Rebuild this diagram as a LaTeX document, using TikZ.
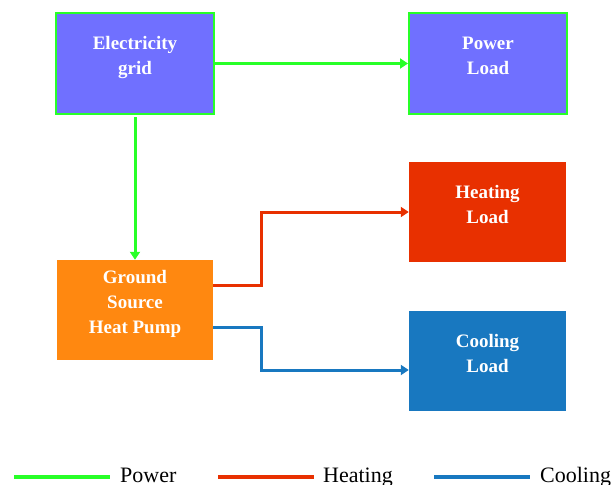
\documentclass[tikz,border=0pt]{standalone}
\usepackage{fontspec}
\setmainfont{Liberation Serif}
\usetikzlibrary{arrows.meta}

\definecolor{powergreen}{RGB}{40,255,40}
\definecolor{gridblue}{RGB}{112,112,255}
\definecolor{heatred}{RGB}{232,48,0}
\definecolor{pumporange}{RGB}{255,136,16}
\definecolor{coolblue}{RGB}{24,120,192}

\tikzset{
  unitbox/.style={rectangle,minimum width=158pt,minimum height=101pt,inner sep=0pt,
    align=center,text=white,text depth=16pt,font=\bfseries\fontsize{19}{25}\selectfont},
  flow/.style={line width=3pt,-{Triangle[length=8pt,width=10pt]}},
  legendtext/.style={anchor=base west,inner sep=0pt,font=\fontsize{22}{26}\selectfont}
}

\begin{document}
\begin{tikzpicture}[x=1pt,y=-1pt,line cap=butt,line join=miter]
  \useasboundingbox (0,0) rectangle (611,485);

  \node[unitbox,fill=gridblue,draw=powergreen,line width=2pt] (grid) at (135,63.5) {Electricity\\grid};
  \node[unitbox,fill=gridblue,draw=powergreen,line width=2pt] (powerload) at (488,63.5) {Power\\Load};
  \node[unitbox,fill=heatred,minimum width=157pt,minimum height=100pt] (heatload) at (487.5,212) {Heating\\Load};
  \node[unitbox,fill=pumporange,minimum width=156pt,minimum height=100pt] (gshp) at (135,310) {Ground\\Source\\Heat Pump};
  \node[unitbox,fill=coolblue,minimum width=157pt,minimum height=100pt] (coolload) at (487.5,361) {Cooling\\Load};

  \draw[flow,powergreen] (grid.east) -- (powerload.west);
  \draw[flow,powergreen] ([yshift=-2pt]grid.south) -- (gshp.north);
  \draw[flow,heatred] ([yshift=25pt]gshp.east) -- ++(48,0) |- (heatload.west);
  \draw[flow,coolblue] ([yshift=-17pt]gshp.east) -- ++(48,0) |- ([yshift=-9pt]coolload.west);

  % legend
  \draw[powergreen,line width=4pt] (14,477) -- (110,477);
  \node[legendtext] (powerkey) at (120,482) {Power};
  \draw[heatred,line width=4pt] (218,477) -- (314,477);
  \node[legendtext] (heatkey) at (323,482) {Heating};
  \draw[coolblue,line width=4pt] (434,477) -- (530,477);
  \node[legendtext] (coolkey) at (540,482) {Cooling};
\end{tikzpicture}
\end{document}
